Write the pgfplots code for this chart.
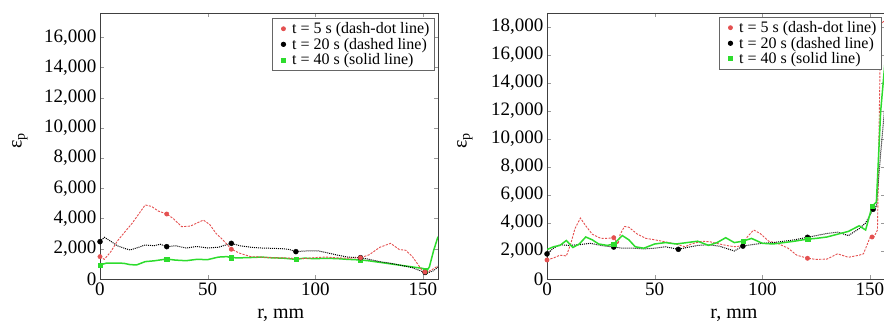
\documentclass[border=0pt]{standalone}
\usepackage{fontspec}
\setmainfont{Liberation Serif}
\usepackage{pgfplots}
\pgfplotsset{compat=1.18}
\definecolor{cred}{RGB}{228,80,80}
\definecolor{cgreen}{RGB}{45,220,45}
\pgfplotsset{
 myaxis/.style={
  scale only axis, width=338pt, height=266pt,
  xmin=0, xmax=157, ymin=0,
  xtick={0,50,100,150},
  tick align=inside, major tick length=4pt,
  tick style={black!40},
  axis line style={black!75, line width=0.8pt},
  /pgf/number format/assume math mode=true,
  /pgf/number format/1000 sep={,},
  scaled y ticks=false,
  ticklabel style={font=\fontsize{19}{22}\selectfont},
  label style={font=\fontsize{20}{24}\selectfont},
  xlabel={r, mm},
  ylabel={ε\textsubscript{p}},
  legend style={at={(0.991,0.981)}, anchor=north east, draw=black!60, line width=0.8pt, font=\fontsize{16}{17.5}\selectfont, inner xsep=3pt, inner ysep=2pt, row sep=-1pt, cells={anchor=west}},
  legend cell align=left,
 },
 redl/.style={cred, dash pattern=on 2.2pt off 1.3pt, line width=0.9pt, forget plot},
 blkl/.style={black, densely dotted, line width=1pt, forget plot},
 grnl/.style={cgreen, line width=1.5pt, forget plot},
 redm/.style={only marks, mark=*, mark size=2.2pt, cred, forget plot},
 blkm/.style={only marks, mark=*, mark size=2.5pt, black, forget plot},
 grnm/.style={only marks, mark=square*, mark size=2.2pt, cgreen, forget plot},
 legimg/.style={only marks, legend image code/.code={\path (0cm,0cm) (0.5cm,0cm); \draw[##1] plot coordinates {(0.28cm,0cm)};}},
 legred/.style={legimg, mark=*, mark size=2pt, cred},
 legblk/.style={legimg, mark=*, mark size=2.2pt, black},
 leggrn/.style={legimg, mark=square*, mark size=2pt, cgreen},
}
\begin{document}
\begin{tikzpicture}
\useasboundingbox (-100pt,-49pt) rectangle (784pt,279pt);
\begin{axis}[myaxis, ymax=17600, ytick={0,2000,...,16000},
  xlabel style={at={(axis description cs:0.535,-0.135)}, anchor=center},
  ylabel style={at={(axis description cs:-0.237,0.52)}, anchor=center}]
\addlegendimage{legred}
\addlegendentry{t = 5 s (dash-dot line)}
\addlegendimage{legblk}
\addlegendentry{t = 20 s (dashed line)}
\addlegendimage{leggrn}
\addlegendentry{t = 40 s (solid line)}
\addplot[grnl] coordinates {(0,930)(3,1050)(7,1050)(11,1040)(14,950)(17,930)(21,1150)(25,1200)(31,1320)(35,1250)(40,1210)(45,1300)(50,1280)(55,1450)(59,1480)(61,1410)(65,1400)(70,1420)(75,1450)(80,1400)(85,1380)(91,1300)(95,1380)(100,1340)(104,1370)(110,1350)(115,1300)(121,1260)(125,1200)(130,1100)(135,1000)(140,900)(145,800)(150,700)(151.5,480)(153,800)(155,1900)(157,2800)};
\addplot[blkl] coordinates {(0,2470)(2,2760)(5,2500)(8,2200)(12,2000)(14,1920)(18,2100)(21,2250)(25,2200)(28,2300)(31,2140)(35,2200)(40,2050)(45,2150)(50,2050)(55,2100)(61,2360)(65,2200)(70,2100)(75,2050)(80,2030)(85,2000)(88,1950)(91,1810)(95,1850)(101,1870)(105,1750)(110,1590)(115,1450)(121,1410)(125,1300)(130,1150)(135,1040)(140,900)(145,750)(150,480)(152,400)(155,550)(157,800)};
\addplot[redl] coordinates {(0,1480)(2,1300)(5,1800)(8,2500)(11,3020)(15,3700)(18,4300)(21,4900)(24,4800)(27,4500)(31,4300)(34,4000)(38,3460)(42,3500)(45,3700)(48,3900)(51,3600)(54,3000)(57,2600)(61,1970)(65,1700)(70,1480)(75,1450)(80,1400)(85,1400)(90,1370)(95,1350)(100,1420)(105,1450)(110,1400)(115,1380)(121,1400)(125,1600)(130,2100)(135,2360)(139,1950)(142,1900)(145,1500)(148,900)(150,480)(152,450)(154,600)(157,860)};
\addplot[grnm] coordinates {(0,930)(31,1320)(61,1410)(91,1300)(121,1260)(151,550)};
\addplot[blkm] coordinates {(0,2470)(31,2140)(61,2360)(91,1810)(121,1410)(151,430)};
\addplot[redm] coordinates {(0,1480)(31,4300)(61,1970)(121,1400)(151,460)};
\end{axis}
\begin{axis}[myaxis, at={(447pt,0)}, ymax=19000, ytick={0,2000,...,18000},
  xlabel style={at={(axis description cs:0.553,-0.135)}, anchor=center},
  ylabel style={at={(axis description cs:-0.243,0.52)}, anchor=center},
  legend style={at={(0.991,0.985)}}]
\addlegendimage{legred}
\addlegendentry{t = 5 s (dash-dot line)}
\addlegendimage{legblk}
\addlegendentry{t = 20 s (dashed line)}
\addlegendimage{leggrn}
\addlegendentry{t = 40 s (solid line)}
\addplot[redl] coordinates {(0,1360)(3,1500)(6,1700)(9,1650)(11,2500)(13,3600)(15.5,4350)(18,3800)(21,3200)(25,2900)(28,2900)(31,2950)(33,2500)(34,3200)(36,3750)(38,3700)(42,3200)(46,2900)(50,2800)(55,2650)(60,2500)(64,2300)(67,2500)(72,2700)(76,2650)(80,2500)(85,2350)(88,2300)(91,2430)(93,3000)(96,3500)(99,3250)(103,2700)(107,2550)(112,2200)(116,1700)(121,1480)(125,1400)(130,1420)(135,1800)(140,1550)(145,1700)(147,1800)(150,2950)(152,3050)(153.5,3500)(155,18200)(157,18500)};
\addplot[blkl] coordinates {(0,1790)(3,2200)(6,2450)(10,2400)(15,2450)(20,2550)(25,2400)(31,2280)(35,2200)(40,2200)(45,2150)(50,2200)(55,2300)(61,2120)(65,2250)(70,2400)(75,2450)(80,2350)(84,2150)(87,2000)(91,2350)(95,2450)(100,2550)(105,2600)(110,2700)(115,2800)(121,2980)(125,3100)(130,3250)(135,3350)(140,3100)(145,3600)(148,4000)(151.5,4980)(153,5200)(155,9000)(157,12500)};
\addplot[grnl] coordinates {(0,2100)(3,2300)(6,2400)(9,2750)(12,2250)(15,2500)(18,3000)(21,2800)(24,2500)(28,2400)(31,2500)(35,3100)(38,2800)(41,2300)(45,2200)(50,2500)(55,2600)(60,2500)(65,2600)(70,2700)(75,2400)(79,2600)(83,2950)(87,2600)(91,2700)(95,2900)(100,2550)(105,2500)(110,2600)(115,2700)(121,2850)(125,2900)(130,3000)(135,3200)(140,3400)(145,3800)(148,3500)(151,5200)(153,5500)(155,12000)(157,15500)};
\addplot[redm] coordinates {(0,1360)(31,2950)(121,1480)(151,3000)};
\addplot[blkm] coordinates {(0,1790)(31,2280)(61,2120)(91,2350)(121,2980)(151.5,4980)};
\addplot[grnm] coordinates {(31,2500)(91,2700)(121,2850)(151,5200)};
\end{axis}
\end{tikzpicture}
\end{document}
